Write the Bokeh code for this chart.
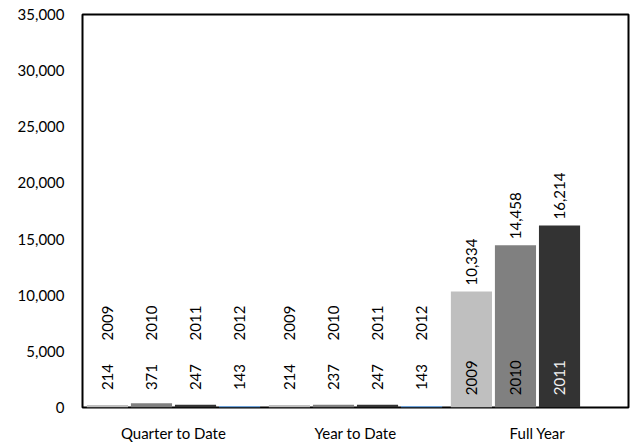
import math
from bokeh.plotting import figure
from bokeh.models import ColumnDataSource, FixedTicker, NumeralTickFormatter
from bokeh.core.properties import value
from bokeh.embed import file_html
from bokeh.resources import INLINE

groups = ["Quarter to Date", "Year to Date", "Full Year"]
years = ["2009", "2010", "2011", "2012"]
values_2009 = [214, 214, 10334]
values_2010 = [371, 237, 14458]
values_2011 = [247, 247, 16214]
values_2012 = [143, 143, None]
colors = ["#BFBFBF", "#808080", "#333333", "#6FA3DA"]
series = [values_2009, values_2010, values_2011, values_2012]

slot = 0.242
bar_w = 0.226
FONT = "Lato"
FS = "15px"

p = figure(width=631, height=444, x_range=(-0.5, 2.5), y_range=(0, 35000),
           output_backend="svg", toolbar_location=None,
           min_border_left=82, min_border_right=3, min_border_top=14, min_border_bottom=35)

xs, tops, cols, vtxt, vy, ytxt, yy, ycol = [], [], [], [], [], [], [], []
for si, (yr, vals) in enumerate(zip(years, series)):
    for gi, v in enumerate(vals):
        if v is None:
            continue
        x = gi + (si - 1.5) * slot
        xs.append(x)
        tops.append(v)
        cols.append(colors[si])
        vtxt.append(f"{v:,}")
        ytxt.append(yr)
        if v > 5000:
            vy.append(v + 530)
            yy.append(1100)
            ycol.append("#F2F2F2" if si == 2 else "#000000")
        else:
            vy.append(1550)
            yy.append(5970)
            ycol.append("#000000")

src = ColumnDataSource(dict(x=xs, top=tops, color=cols, vtxt=vtxt, vy=vy, ytxt=ytxt, yy=yy, ycol=ycol))
p.vbar(x="x", top="top", bottom=0, width=bar_w, fill_color="color", line_color=None, source=src)
p.text(x="x", y="vy", text="vtxt", angle=math.pi / 2, text_align="left", text_baseline="middle",
       text_font=value(FONT), text_font_size=FS, text_color="#000000", source=src)
p.text(x="x", y="yy", text="ytxt", angle=math.pi / 2, text_align="left", text_baseline="middle",
       text_font=value(FONT), text_font_size=FS, text_color="ycol", source=src)

p.xgrid.visible = False
p.ygrid.visible = False
p.outline_line_color = "#000000"
p.outline_line_width = 2
p.outline_line_alpha = 1

p.yaxis.ticker = FixedTicker(ticks=list(range(0, 35001, 5000)))
p.yaxis.formatter = NumeralTickFormatter(format="0,0")
p.xaxis.ticker = FixedTicker(ticks=[0, 1, 2])
p.xaxis.major_label_overrides = {i: g for i, g in enumerate(groups)}
for ax in (p.xaxis[0], p.yaxis[0]):
    ax.axis_line_color = None
    ax.major_tick_line_color = None
    ax.minor_tick_line_color = None
    ax.major_tick_out = 0
    ax.major_tick_in = 0
    ax.major_label_text_font = FONT
    ax.major_label_text_font_size = FS
    ax.major_label_text_color = "#000000"
p.yaxis.major_label_standoff = 18
p.xaxis.major_label_standoff = 16

open("out.html", "w").write(file_html(p, INLINE))
